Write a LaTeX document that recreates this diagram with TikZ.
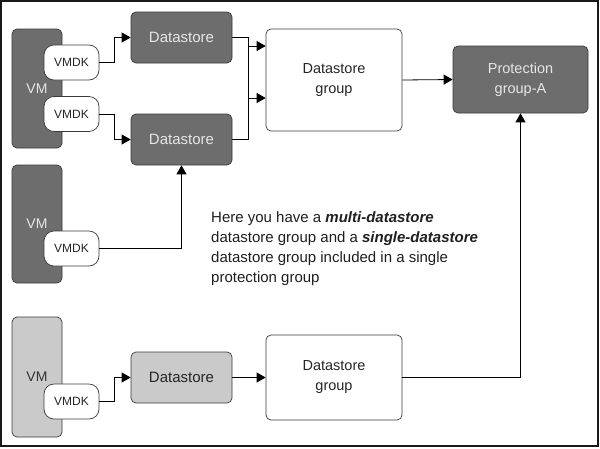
\documentclass[tikz,border=0pt]{standalone}
\usepackage{fontspec}
\setmainfont{Liberation Sans}
\usetikzlibrary{arrows.meta,calc}
\definecolor{darkbox}{HTML}{6D6D6D}
\definecolor{lightbox}{HTML}{CACACA}
\definecolor{boxline}{HTML}{3A3A3A}
\definecolor{lighttext}{HTML}{E6E6E6}
\begin{document}
\begin{tikzpicture}[x=1pt,y=-1pt,
  box/.style={draw=boxline,line width=0.7pt,rounded corners=5pt,inner sep=0pt,align=center},
  vmbox/.style={box,fill=darkbox,minimum width=50pt,text=lighttext,font=\fontsize{14}{16}\selectfont},
  lvmbox/.style={box,fill=lightbox,minimum width=50pt,text=black!80,font=\fontsize{14}{16}\selectfont},
  diskbox/.style={box,fill=white,rounded corners=10pt,minimum width=55pt,minimum height=35pt,text=black!85,font=\fontsize{12}{14}\selectfont},
  dsbox/.style={box,fill=darkbox,minimum width=101pt,minimum height=51pt,text=lighttext,font=\fontsize{15}{17}\selectfont},
  ldsbox/.style={box,fill=lightbox,minimum width=101pt,minimum height=51pt,text=black!85,font=\fontsize{15}{17}\selectfont},
  grpbox/.style={box,fill=white,minimum width=136pt,text=black!85,font=\fontsize{14.5}{20}\selectfont},
  pgbox/.style={box,fill=darkbox,minimum width=135pt,minimum height=67pt,text=lighttext,font=\fontsize{14.5}{20}\selectfont},
  arr/.style={draw=black,line width=0.8pt,-{Triangle[length=9pt,width=10pt]}}
]
\useasboundingbox (0,0) rectangle (600,448);
\fill[white] (0,0) rectangle (600,448);
\draw[line width=2pt,draw=black!90] (1,1) rectangle (598,446);

% VMs
\node[vmbox,minimum height=119pt] (vm1) at (37,88.5) {VM};
\node[vmbox,minimum height=118pt] (vm2) at (37,224) {VM};
\node[lvmbox,minimum height=120pt] (vm3) at (37,377) {VM};

% VMDKs
\node[diskbox] (k1) at (71.5,62.5) {VMDK};
\node[diskbox] (k2) at (71.5,114) {VMDK};
\node[diskbox] (k3) at (71.5,248.5) {VMDK};
\node[diskbox] (k4) at (71.5,401.5) {VMDK};

% Datastores
\node[dsbox] (d1) at (181.5,37.5) {Datastore};
\node[dsbox] (d2) at (181.5,139.5) {Datastore};
\node[ldsbox] (d3) at (181.5,377.5) {Datastore};

% Groups
\node[grpbox,minimum height=102pt] (g1) at (334,80) {Datastore\\group};
\node[grpbox,minimum height=85pt] (g2) at (334,377.5) {Datastore\\group};
\node[pgbox] (pg) at (520.5,79.5) {Protection\\group-A};

% text
\node[anchor=north west,align=left,inner sep=0pt,text=black!88,
      font=\fontsize{15}{20.3}\selectfont] (txt) at (211,211)
  {Here you have a \textbf{\textit{multi-datastore}}\\
   datastore group and a \textbf{\textit{single-datastore}}\\
   datastore group included in a single\\
   protection group};

% connectors
\draw[arr] (k1.east) -- ++(15,0) |- (d1.west);
\draw[arr] (k2.east) -- ++(15,0) |- (d2.west);
\draw[arr] (k3.east) -| (d2.south);
\draw[arr] (k4.east) -- ++(15,0) |- (d3.west);
\draw[arr] (d1.east) -- ++(16,0) |- ([yshift=-18pt]g1.west);
\draw[arr] (d2.east) -- ++(16,0) |- ([yshift=34pt]g1.west);
\draw[arr] (d3.east) -- (g2.west);
\draw[arr] (g1.east) -- (pg.west);
\draw[arr] (g2.east) -| (pg.south);
\end{tikzpicture}
\end{document}
